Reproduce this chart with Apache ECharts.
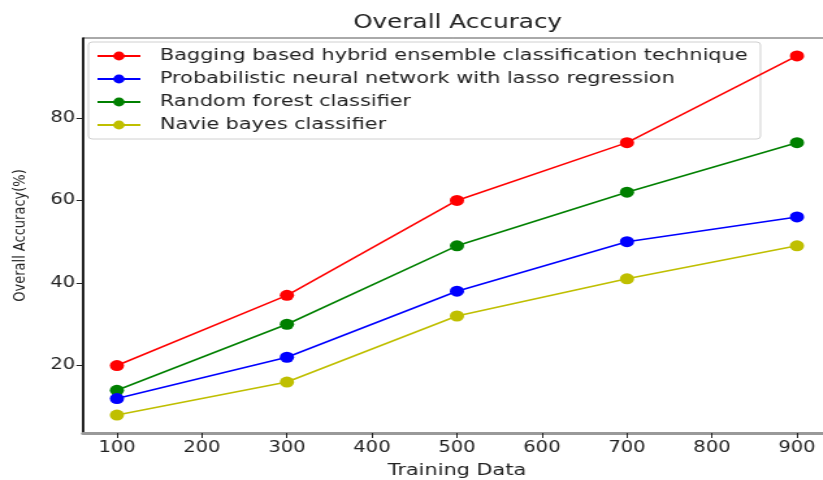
<!DOCTYPE html>
<html><head><meta charset="utf-8">
<script src="https://cdn.jsdelivr.net/npm/echarts@6/dist/echarts.min.js"></script>
<style>
html,body{margin:0;padding:0;background:#fff;overflow:hidden}
#wrap{width:823px;height:480px;overflow:hidden}
#c{width:633px;height:480px;transform:scaleX(1.3);transform-origin:0 0}
</style>
</head><body><div id="wrap"><div id="c"></div></div>
<script>
const xValues = [100, 300, 500, 700, 900];
const xTicks = [100, 200, 300, 400, 500, 600, 700, 800, 900];
const yTicks = [20, 40, 60, 80];
const seriesNames = [
  'Bagging based hybrid ensemble classification technique',
  'Probabilistic neural network with lasso regression',
  'Random forest classifier',
  'Navie bayes classifier'
];
const bagging = [20, 37, 60, 74, 95];
const pnn = [12, 22, 38, 50, 56];
const randomForest = [14, 30, 49, 62, 74];
const naiveBayes = [8, 16, 32, 41, 49];
const colors = ['#ff0000', '#0000ff', '#008000', '#bfbf00'];
const allValues = [bagging, pnn, randomForest, naiveBayes];

const chart = echarts.init(document.getElementById('c'), null, {renderer: 'canvas'});
const font = 'DejaVu Sans';
chart.setOption({
  animation: false,
  backgroundColor: '#fff',
  title: {
    text: 'Overall Accuracy', left: 347, top: 9, textAlign: 'center',
    textStyle: {fontFamily: font, fontSize: 19, fontWeight: 'normal', color: '#222'}
  },
  legend: {
    orient: 'vertical', left: 68, top: 42,
    itemWidth: 33, itemHeight: 11, itemGap: 7,
    padding: [6, 10, 6, 6],
    borderColor: '#d0d0d0', borderWidth: 1, borderRadius: 3,
    backgroundColor: 'rgba(255,255,255,0.85)',
    textStyle: {fontFamily: font, fontSize: 16, color: '#222', padding: [0, 0, 0, 10]},
    data: seriesNames
  },
  grid: {left: 63.8, top: 38, width: 575.4, height: 395, show: true, borderColor: '#555', borderWidth: 1,
         outerBoundsMode: 'none', containLabel: false},
  xAxis: {
    type: 'value', min: 60, max: 940,
    name: 'Training Data', nameLocation: 'middle', nameGap: 30,
    nameTextStyle: {fontFamily: font, fontSize: 16, color: '#222'},
    axisLine: {show: true, onZero: false, lineStyle: {color: '#999', width: 3}},
    axisTick: {show: true, length: 5, customValues: xTicks, lineStyle: {color: '#222'}},
    axisLabel: {customValues: xTicks, fontFamily: font, fontSize: 15, color: '#222', margin: 8},
    splitLine: {show: false}
  },
  yAxis: {
    type: 'value', min: 3.65, max: 99.35,
    name: 'Overall Accuracy(%)', nameLocation: 'middle', nameGap: 42,
    nameTextStyle: {fontFamily: font, fontSize: 13, color: '#222'},
    axisLine: {show: true, onZero: false, lineStyle: {color: '#000', width: 1.6}},
    axisTick: {show: true, length: 5, customValues: yTicks, lineStyle: {color: '#222'}},
    axisLabel: {customValues: yTicks, fontFamily: font, fontSize: 15, color: '#222', margin: 6},
    splitLine: {show: false}
  },
  series: seriesNames.map((n, i) => ({
    name: n, type: 'line',
    data: xValues.map((x, j) => [x, allValues[i][j]]),
    symbol: 'circle', symbolSize: 11,
    lineStyle: {color: colors[i], width: 1.6},
    itemStyle: {color: colors[i]},
    z: 10 - i
  }))
});
</script></body></html>
